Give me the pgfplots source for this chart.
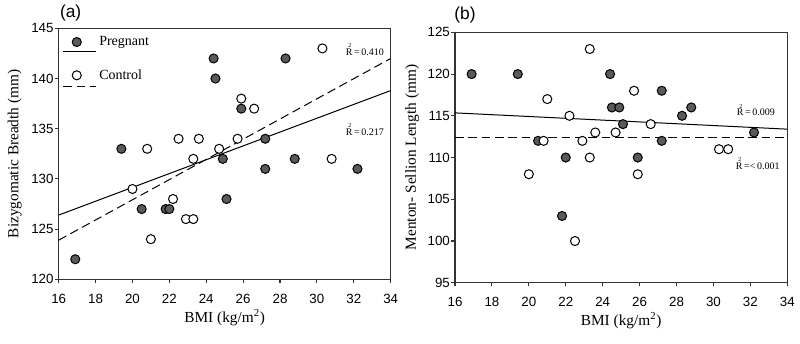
\documentclass[border=0pt]{standalone}
\usepackage{pgfplots}
\pgfplotsset{compat=1.18}
\usepackage{fontspec}
\setmainfont{Liberation Serif}
\setsansfont{Liberation Sans}
\definecolor{pregfill}{RGB}{90,90,90}

\pgfplotstableread{
x y
16.9 122
19.4 133
20.5 127
21.8 127
22.0 127
24.4 142
24.5 140
24.9 132
25.1 128
25.9 137
27.2 134
27.2 131
28.3 142
28.8 132
32.2 131
}\pregA
\pgfplotstableread{
x y
20.0 129
20.8 133
21.0 124
22.2 128
22.5 134
22.9 126
23.3 132
23.3 126
23.6 134
24.7 133
25.7 134
25.9 138
26.6 137
30.3 143
30.8 132
}\ctrlA
\pgfplotstableread{
x y
16.9 120
19.4 120
20.5 112
22.0 110
21.8 103
24.4 120
24.5 116
24.9 116
25.1 114
25.9 110
27.2 118
27.2 112
28.3 115
28.8 116
32.2 113
}\pregB
\pgfplotstableread{
x y
20.0 108
20.8 112
21.0 117
22.2 115
22.5 100
22.9 112
23.3 123
23.3 110
23.6 113
24.7 113
25.7 118
25.9 108
26.6 114
30.3 111
30.8 111
}\ctrlB

\newcommand{\Rsq}[1]{\rlap{\raisebox{5.6pt}{\kern0.25em\fontsize{4.5}{5}\selectfont 2}}R\,#1}
\tikzset{rnode/.style={font=\fontsize{7.5}{8}\selectfont}}

\pgfplotsset{
  every axis title shift=0pt,
  myaxis/.style={
    scale only axis,
    xmin=16, xmax=34, xtick={16,18,...,34},
    axis line style={line width=0.95pt, black!80},
    tick style={black!80, line width=0.8pt},
    tick align=outside, xtick pos=left, ytick pos=left,
    major tick length=2.8pt,
    /pgf/number format/assume math mode=true,
    tick label style={font=\sffamily\fontsize{10}{12}\selectfont},
    xticklabel style={yshift=-4.5pt},
    yticklabel style={xshift=2.5pt},
    label style={font=\fontsize{11.5}{13}\selectfont},
    xlabel={BMI (kg/m\textsuperscript{2})},
    title style={font=\sffamily\fontsize{13}{14}\selectfont, anchor=center},
  },
  pregmark/.style={only marks, mark=*, mark size=3.4pt, mark options={fill=pregfill, draw=black, line width=0.75pt}},
  ctrlmark/.style={only marks, mark=*, mark size=3.4pt, mark options={fill=white, draw=black, line width=0.75pt}},
  regsolid/.style={no marks, black, line width=0.75pt},
  regdash/.style={no marks, black, line width=0.75pt, dash pattern=on 6.5pt off 3.5pt},
}

\begin{document}
\begin{tikzpicture}
\useasboundingbox (0,0) rectangle (600pt,257.25pt);
% ---------------- panel (a)
\begin{axis}[myaxis,
  at={(44pt,47.75pt)}, anchor=south west,
  width=249pt, height=188.25pt,
  ymin=120, ymax=145, ytick={120,125,...,145},
  ylabel={Bizygomatic Breadth (mm)},
  xlabel style={at={(axis description cs:0.5,-0.152)}, anchor=center},
  ylabel style={at={(axis description cs:-0.1325,0.5)}, anchor=center},
  title={(a)}, title style={at={(axis description cs:0.036,1.061)}},
  legend style={at={(axis description cs:0.0,0.99)}, anchor=north west,
    draw=none, fill=none, font=\fontsize{10.5}{12}\selectfont,
    row sep=11pt, legend cell align=left},
]
\addlegendimage{legend image code/.code={
  \draw[line width=0.75pt] (0pt,-7.2pt) -- (24.5pt,-7.2pt);
  \draw[line width=0.75pt, fill=pregfill] (10pt,0pt) circle (3.4pt);}}
\addlegendentry{Pregnant}
\addlegendimage{legend image code/.code={
  \draw[line width=0.75pt, dash pattern=on 6.5pt off 3.5pt] (0pt,-8.7pt) -- (24.5pt,-8.7pt);
  \draw[line width=0.75pt, fill=white] (10pt,0pt) circle (3.4pt);}}
\addlegendentry{Control}
\addplot[regsolid, forget plot] coordinates {(16,126.4) (34,138.8)};
\addplot[regdash, forget plot] coordinates {(16,123.9) (34,142.0)};
\addplot[pregmark, forget plot] table[x=x,y=y] {\pregA};
\addplot[ctrlmark, forget plot] table[x=x,y=y] {\ctrlA};
\node[rnode] at (axis cs:32.6,142.9) {\Rsq{=\,0.410}};
\node[rnode] at (axis cs:32.6,134.9) {\Rsq{=\,0.217}};
\end{axis}
% ---------------- panel (b)
\begin{axis}[myaxis,
  at={(341.25pt,45.2pt)}, anchor=south west,
  width=249.2pt, height=187.8pt,
  ymin=95, ymax=125, ytick={95,100,...,125},
  ylabel={Menton- Sellion Length (mm)},
  xlabel style={at={(axis description cs:0.5,-0.152)}, anchor=center},
  ylabel style={at={(axis description cs:-0.129,0.5)}, anchor=center},
  title={(b)}, title style={at={(axis description cs:0.03,1.069)}},
]
\addplot[regsolid] coordinates {(16,115.35) (34,113.4)};
\addplot[regdash] coordinates {(16,112.4) (34,112.4)};
\addplot[pregmark] table[x=x,y=y] {\pregB};
\addplot[ctrlmark] table[x=x,y=y] {\ctrlB};
\node[rnode] at (axis cs:32.3,115.7) {\Rsq{=\,0.009}};
\node[rnode] at (axis cs:32.4,109.3) {\Rsq{=<\,0.001}};
\end{axis}
\end{tikzpicture}
\end{document}
